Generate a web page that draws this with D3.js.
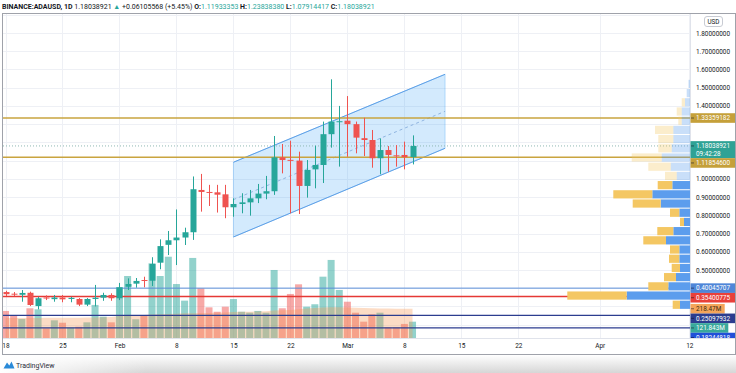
<!DOCTYPE html>
<html><head><meta charset="utf-8">
<script src="https://cdn.jsdelivr.net/npm/d3@7"></script>
<style>body{margin:0;background:#fff}svg{display:block;font-family:Roboto,"Liberation Sans",sans-serif}</style>
</head><body><svg id="c" width="736" height="373"></svg>
<script>
// ---------- DATA ----------
const firstDay = "2021-01-18";
const opens  = [0.379,0.370,0.364,0.375,0.302,0.349,0.340,0.349,0.341,0.341,0.310,0.341,0.348,0.363,
  0.345,0.408,0.425,0.445,0.441,0.540,0.638,0.663,0.678,0.707,0.939,0.928,0.926,0.915,
  0.844,0.862,0.871,0.893,0.919,0.932,1.118,1.104,1.100,0.961,1.052,1.076,1.245,1.312,
  1.319,1.300,1.223,1.213,1.113,1.158,1.129,1.131,1.11933353];
const highs  = [0.386,0.379,0.390,0.381,0.353,0.361,0.363,0.363,0.353,0.346,0.346,0.418,0.375,0.372,
  0.429,0.454,0.456,0.463,0.570,0.668,0.714,0.832,0.732,1.013,1.027,0.967,0.967,0.967,
  0.893,0.921,0.939,0.972,1.016,1.235,1.191,1.209,1.149,1.103,1.182,1.314,1.546,1.400,
  1.454,1.314,1.335,1.268,1.222,1.180,1.185,1.204,1.23838380];
const lows   = [0.357,0.357,0.326,0.302,0.284,0.335,0.326,0.323,0.323,0.302,0.302,0.300,0.331,0.331,
  0.335,0.390,0.403,0.405,0.412,0.504,0.582,0.527,0.637,0.665,0.820,0.851,0.815,0.784,
  0.792,0.811,0.798,0.867,0.888,0.912,1.030,0.811,0.807,0.897,0.948,0.977,1.171,1.067,
  1.121,1.140,1.125,1.061,1.025,1.039,1.067,1.052,1.07914417];
const closes = [0.367,0.366,0.374,0.308,0.345,0.346,0.349,0.339,0.347,0.310,0.341,0.348,0.363,0.345,
  0.405,0.423,0.440,0.441,0.533,0.631,0.663,0.678,0.707,0.943,0.928,0.925,0.913,0.844,
  0.862,0.871,0.893,0.919,0.932,1.118,1.103,1.100,0.961,1.049,1.076,1.245,1.314,1.316,
  1.300,1.226,1.213,1.113,1.158,1.131,1.126,1.119,1.18038921];
// volume, millions
const volumes = [202,167,142,222,214,72,132,114,77,84,117,247,159,117,
  379,463,140,167,558,463,607,403,279,598,371,229,196,234,
  291,196,189,202,189,508,222,329,401,234,252,458,583,359,
  271,189,122,177,189,80,80,105,121.843];
const volumeMA = [150,150,150,150,150,151,151,151,152,152,153,154,155,157,
  165,168,170,172,175,178,180,182,184,185,186,187,188,190,
  195,196,197,198,200,205,207,210,215,220,225,228,230,230,
  228,226,224,222,221,220,219,219,218.47];

const priceTicks = [0.2,0.3,0.4,0.5,0.6,0.7,0.8,0.9,1.0,1.1,1.2,1.3,1.4,1.5,1.6,1.7,1.8,1.9];
const timeTicks  = ["2021-01-18","2021-01-25","2021-02-01","2021-02-08","2021-02-15","2021-02-22",
  "2021-03-01","2021-03-08","2021-03-15","2021-03-22","2021-04-01","2021-04-12"];
const timeLabels = ["18","25","Feb","8","15","22","Mar","8","15","22","Apr","12"];

// volume profile rows (bottom -> top), relative volume
const profileLow = 0.284, profileRow = 0.05048, valueAreaHigh = 1.041;
const profileUp   = [10,63.3,21.7,14,10,10.7,10.7,24,16.7,6,10.7,29.3,37.7,17.7,13.3,19.3,28.3,18.3,16.7,16.7,8.3,8.3,5,3.3,1.5];
const profileDown = [7.3,59.4,20,12,8.3,10.3,9.3,22.7,16,4,9.3,28,39,14.6,11.7,22.4,30,13.4,15,18.3,3.4,5,3.3,0,0];

// parallel channel
const channelDates = ["2021-02-15","2021-03-13"];
const channelUpper = [1.091,1.5735];
const channelLower = [0.681,1.1676];

// horizontal levels
const levels = [
  {p:1.33359182, c:"#c9a43f", w:1.5},
  {p:1.11854600, c:"#c9a43f", w:1.5},
  {p:0.40045707, c:"#5b8fd9", w:1},
  {p:0.35400775, c:"#e53935", w:1.5},
  {p:0.25097932, c:"#2c3d8f", w:1.2},
  {p:0.18244818, c:"#2c3d8f", w:1.2}
];
const lastPrice = 1.18038921;
const badges = [
  {kind:"p", v:1.33359182, t:["1.33359182"], bg:"#c5a03a", fg:"#fff"},
  {kind:"p", v:1.18038921, t:["1.18038921","09:42:28"], bg:"#2fa295", fg:"#fff"},
  {kind:"p", v:1.11854600, t:["1.11854600"], bg:"#c5a03a", fg:"#fff"},
  {kind:"p", v:0.40045707, t:["0.40045707"], bg:"#4f86d8", fg:"#fff"},
  {kind:"p", v:0.35400775, t:["0.35400775"], bg:"#e8403a", fg:"#fff"},
  {kind:"v", v:218.47, t:["218.47M"], bg:"#f5a55a", fg:"#3b2a14"},
  {kind:"p", v:0.25097932, t:["0.25097932"], bg:"#2c3d8f", fg:"#fff"},
  {kind:"v", v:121.843, t:["121.843M"], bg:"#39a99c", fg:"#fff"},
  {kind:"p", v:0.18244818, t:["0.18244818"], bg:"#2150d8", fg:"#fff"}
];

// ---------- CHART ----------
const W=736,H=373, L=3, R=690, T=14, B=338;
const svg=d3.select("#c");
const pd=d3.utcParse("%Y-%m-%d");
const day0=pd(firstDay);
const dates=opens.map((_,i)=>d3.utcDay.offset(day0,i));
const x=d3.scaleUtc().domain([pd("2021-01-18"),pd("2021-04-12")]).range([5.5,689.3]);
const y=d3.scaleLinear().domain([0.1269,1.9042]).range([B,T]);
const yv=d3.scaleLinear().domain([0,2420]).range([B,T]);
const GREEN="#26a69a", RED="#ef5350";

svg.append("rect").attr("width",W).attr("height",H).attr("fill","#fff");
const defs=svg.append("defs");
defs.append("clipPath").attr("id","plot").append("rect").attr("x",L).attr("y",T).attr("width",R-L).attr("height",B-T);
defs.append("clipPath").attr("id","paxis").append("rect").attr("x",R).attr("y",T).attr("width",W-R).attr("height",B-T+1);
const sg=defs.append("linearGradient").attr("id","shadow").attr("x1",0).attr("y1",0).attr("x2",0).attr("y2",1);
sg.append("stop").attr("offset","0").attr("stop-color","#ffffff");
sg.append("stop").attr("offset","1").attr("stop-color","#d6d6d6");
const sg2=defs.append("linearGradient").attr("id","shadowH").attr("x1",0).attr("y1",0).attr("x2",1).attr("y2",0);
sg2.append("stop").attr("offset","0").attr("stop-color","#fff").attr("stop-opacity",1);
sg2.append("stop").attr("offset","0.2").attr("stop-color","#fff").attr("stop-opacity",0);

// bottom shadow
svg.append("rect").attr("x",0).attr("y",355).attr("width",W).attr("height",18).attr("fill","url(#shadow)");
svg.append("rect").attr("x",0).attr("y",355).attr("width",W).attr("height",18).attr("fill","url(#shadowH)");

const plot=svg.append("g").attr("clip-path","url(#plot)");
// grid
plot.selectAll(".vg").data(timeTicks).join("line")
  .attr("x1",d=>Math.round(x(pd(d)))+0.5).attr("x2",d=>Math.round(x(pd(d)))+0.5)
  .attr("y1",T).attr("y2",B).attr("stroke","#eef0f5");
plot.selectAll(".hg").data(priceTicks).join("line")
  .attr("y1",d=>Math.round(y(d))+0.5).attr("y2",d=>Math.round(y(d))+0.5)
  .attr("x1",L).attr("x2",R).attr("stroke","#eef0f5");

// volume bars
plot.selectAll(".vol").data(volumes).join("rect")
  .attr("x",(d,i)=>x(dates[i])-3.5).attr("width",7)
  .attr("y",d=>yv(d)).attr("height",d=>B-yv(d))
  .attr("fill",(d,i)=>closes[i]>=opens[i]?"rgba(38,166,154,0.5)":"rgba(239,83,80,0.5)");
// volume MA area
plot.append("path").datum(volumeMA)
  .attr("d",d3.area().x((d,i)=>x(dates[i])).y0(B).y1(d=>yv(d)))
  .attr("fill","rgba(245,150,80,0.33)");

// channel
const c0=pd(channelDates[0]), c1=pd(channelDates[1]);
plot.append("polygon")
  .attr("points",[[x(c0),y(channelUpper[0])],[x(c1),y(channelUpper[1])],[x(c1),y(channelLower[1])],[x(c0),y(channelLower[0])]].map(p=>p.join(",")).join(" "))
  .attr("fill","rgba(33,150,243,0.2)").attr("stroke","rgba(33,150,243,0.35)").attr("stroke-width",0.8);
plot.append("line").attr("x1",x(c0)).attr("y1",y(channelUpper[0])).attr("x2",x(c1)).attr("y2",y(channelUpper[1]))
  .attr("stroke","#5e9fe6").attr("stroke-width",1);
plot.append("line").attr("x1",x(c0)).attr("y1",y(channelLower[0])).attr("x2",x(c1)).attr("y2",y(channelLower[1]))
  .attr("stroke","#5e9fe6").attr("stroke-width",1);
plot.append("line").attr("x1",x(c0)).attr("y1",y((channelUpper[0]+channelLower[0])/2))
  .attr("x2",x(c1)).attr("y2",y((channelUpper[1]+channelLower[1])/2))
  .attr("stroke","#7ea6d8").attr("stroke-width",0.8).attr("stroke-dasharray","3,3");

// levels
plot.selectAll(".lvl").data(levels).join("line")
  .attr("x1",L).attr("x2",R).attr("y1",d=>y(d.p)).attr("y2",d=>y(d.p))
  .attr("stroke",d=>d.c).attr("stroke-width",d=>d.w);
plot.append("line").attr("x1",L).attr("x2",R).attr("y1",y(lastPrice)).attr("y2",y(lastPrice))
  .attr("stroke","#8fb8b3").attr("stroke-dasharray","1,2");

// candles
const cg=plot.selectAll(".cd").data(opens).join("g");
cg.append("line")
  .attr("x1",(d,i)=>Math.round(x(dates[i]))+0.5).attr("x2",(d,i)=>Math.round(x(dates[i]))+0.5)
  .attr("y1",(d,i)=>y(highs[i])).attr("y2",(d,i)=>y(lows[i]))
  .attr("stroke",(d,i)=>closes[i]>=opens[i]?GREEN:RED).attr("stroke-width",1);
cg.append("rect")
  .attr("x",(d,i)=>Math.round(x(dates[i]))-2.5).attr("width",6)
  .attr("y",(d,i)=>y(Math.max(opens[i],closes[i])))
  .attr("height",(d,i)=>Math.max(1,Math.abs(y(opens[i])-y(closes[i]))))
  .attr("fill",(d,i)=>closes[i]>=opens[i]?GREEN:RED);

// volume profile
const px=d3.scaleLinear().domain([0,123]).range([0,123]);
const prof=plot.append("g");
profileUp.forEach((u,k)=>{
  const dn=profileDown[k];
  const lo=profileLow+k*profileRow, hi=lo+profileRow;
  const yt=y(hi)+0.5, h=y(lo)-y(hi)-1;
  const inVA=hi<=valueAreaHigh+1e-6;
  prof.append("rect").attr("x",R-px(u)).attr("width",px(u)).attr("y",yt).attr("height",h)
    .attr("fill","#5c9ded").attr("fill-opacity",inVA?1:0.33);
  prof.append("rect").attr("x",R-px(u+dn)).attr("width",px(dn)).attr("y",yt).attr("height",h)
    .attr("fill","#f4c763").attr("fill-opacity",inVA?1:0.33);
});

// badges layout (collision resolution)
const bh=9.6;
const bl=badges.map(b=>{
  const yc=b.kind==="p"?y(b.v):yv(b.v);
  const hh=b.t.length===2?17:bh;
  return {...b, top:yc-bh/2, hh};
});
let prevBottom=-1e9;
bl.forEach(b=>{ if(b.top<prevBottom) b.top=prevBottom; prevBottom=b.top+b.hh; });

// price axis (hide tick labels that sit under a badge)
const covered=p=>{const yy=y(p); return bl.some(b=>yy>b.top-1.5 && yy<b.top+b.hh+1.5);};
svg.append("line").attr("x1",R+0.5).attr("x2",R+0.5).attr("y1",T).attr("y2",B).attr("stroke","#e0e3eb");
const pax=svg.append("g").attr("clip-path","url(#paxis)");
const ya=pax.append("g").attr("transform",`translate(${R},0)`)
  .call(d3.axisRight(y).tickValues(priceTicks.filter(p=>p<1.85 && !covered(p))).tickFormat(d3.format(".8f")).tickSize(0).tickPadding(6));
ya.select(".domain").remove();
ya.selectAll("text").attr("font-size",6.4).attr("fill","#131722").attr("font-family","Roboto,sans-serif");
// USD box
pax.append("rect").attr("x",704.5).attr("y",16.5).attr("width",18).attr("height",10).attr("rx",2.5)
  .attr("fill","#fff").attr("stroke","#c8cbd3");
pax.append("text").attr("x",713.5).attr("y",24).attr("text-anchor","middle").attr("font-size",6.3).attr("fill","#131722").text("USD");

bl.forEach(b=>{
  const g=pax.append("g");
  const wdt=b.kind==="v"? (b.t[0].length*3.6+9) : 45;
  g.append("rect").attr("x",R+0.5).attr("y",b.top).attr("width",wdt).attr("height",b.hh).attr("fill",b.bg);
  g.append("line").attr("x1",R+1).attr("x2",R+4).attr("y1",b.top+bh/2).attr("y2",b.top+bh/2)
    .attr("stroke","rgba(20,20,40,0.55)");
  b.t.forEach((t,j)=>{
    g.append("text").attr("x",696).attr("y",b.top+bh/2+2.3+j*7.6).attr("font-size",6.4)
      .attr("fill",b.fg).text(t);
  });
});

// time axis
svg.append("line").attr("x1",L).attr("x2",W).attr("y1",B+0.5).attr("y2",B+0.5).attr("stroke","#e0e3eb");
const xa=svg.append("g").attr("transform",`translate(0,${B})`)
  .call(d3.axisBottom(x).tickValues(timeTicks.map(pd)).tickFormat((d,i)=>timeLabels[i]).tickSize(0).tickPadding(5));
xa.select(".domain").remove();
xa.selectAll("text").attr("font-size",6.5).attr("fill","#131722").attr("font-family","Roboto,sans-serif");

// frame
svg.append("rect").attr("x",2.5).attr("y",13.5).attr("width",733).attr("height",341)
  .attr("fill","none").attr("stroke","#9fa2aa").attr("stroke-width",1);

// header
const hd=svg.append("text").attr("x",2).attr("y",8.5).attr("font-size",7).attr("fill","#131722");
hd.append("tspan").attr("font-weight","bold").text("BINANCE:ADAUSD, 1D");
hd.append("tspan").text("  1.18038921 ");
hd.append("tspan").attr("fill",GREEN).text("▲");
hd.append("tspan").text(" +0.06105568 (+5.45%) ");
[["O:","1.11933353"],["H:","1.23838380"],["L:","1.07914417"],["C:","1.18038921"]].forEach(([k,v])=>{
  hd.append("tspan").attr("font-weight","bold").text(" "+k);
  hd.append("tspan").attr("fill",GREEN).text(v);
});

// logo
svg.append("path").attr("d","M3.5,368.5 L7,362.5 L9.3,365.5 L11.5,361.5 L14.5,368.5 Z").attr("fill","#2a8ad8");
svg.append("text").attr("x",16).attr("y",367.5).attr("font-size",7).attr("fill","#2a2e39").text("TradingView");
</script></body></html>
